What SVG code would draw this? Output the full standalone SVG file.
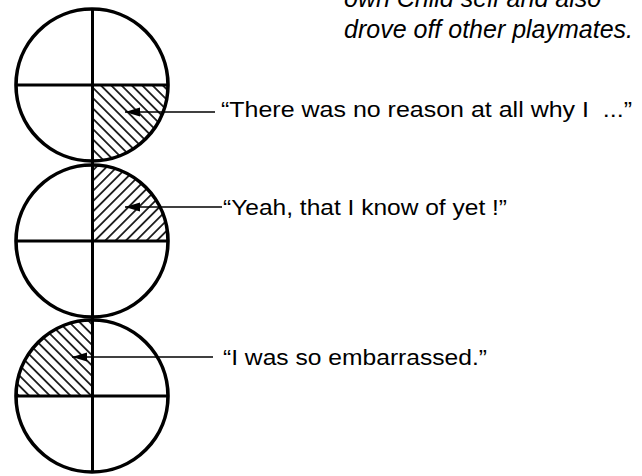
<svg xmlns="http://www.w3.org/2000/svg" width="642" height="476" viewBox="0 0 642 476">
<style>
.ring{fill:none;stroke:#000;stroke-width:3.6}
.ax{stroke:#000;stroke-width:3;fill:none}
.conn{stroke:#000;stroke-width:1.5;fill:none;marker-end:url(#ah)}
.lbl{font-family:"Liberation Sans",Arial,sans-serif;font-size:22.5px;fill:#000}
.note{font-family:"Liberation Sans",Arial,sans-serif;font-size:25px;font-style:italic;fill:#000}
</style>
<defs>
<pattern id="hatchB" patternUnits="userSpaceOnUse" width="7.3" height="10" patternTransform="rotate(-45)">
<line x1="3.65" y1="0" x2="3.65" y2="10" stroke="#000" stroke-width="1.6"/>
</pattern>
<pattern id="hatchF" patternUnits="userSpaceOnUse" width="7.3" height="10" patternTransform="rotate(45)">
<line x1="3.65" y1="0" x2="3.65" y2="10" stroke="#000" stroke-width="1.6"/>
</pattern>
<marker id="ah" markerWidth="16" markerHeight="10" refX="15" refY="5" orient="auto" markerUnits="userSpaceOnUse">
<path d="M0,0.5 L15,5 L0,9.5 Z" fill="#000"/>
</marker>
</defs>
<rect width="642" height="476" fill="#fff"/>
<g id="note">
<text class="note" x="344" y="7">own Child self and also</text>
<text class="note" x="344" y="38">drove off other playmates.</text>
</g>
<g id="circle1">
<path d="M92,85 H168 A76,76 0 0 1 92,161 Z" fill="url(#hatchB)"/>
<circle class="ring" cx="92" cy="85" r="76"/>
<line class="ax" x1="16" y1="85" x2="168" y2="85"/>
</g>
<g id="circle2">
<path d="M92,241 V165 A76,76 0 0 1 168,241 Z" fill="url(#hatchF)"/>
<circle class="ring" cx="92" cy="241" r="76"/>
<line class="ax" x1="16" y1="241" x2="168" y2="241"/>
</g>
<g id="circle3">
<path d="M92,396 H16 A76,76 0 0 1 92,320 Z" fill="url(#hatchB)"/>
<circle class="ring" cx="92" cy="396" r="76"/>
<line class="ax" x1="16" y1="396" x2="168" y2="396"/>
</g>
<g id="axis">
<line class="ax" x1="92.5" y1="9" x2="92.5" y2="472"/>
</g>
<g id="connectors">
<line class="conn" x1="215" y1="112" x2="125" y2="112"/>
<line class="conn" x1="222" y1="207" x2="125" y2="207"/>
<line class="conn" x1="213" y1="357" x2="72" y2="357"/>
</g>
<g id="label1"><text class="lbl" x="221" y="117" textLength="411" lengthAdjust="spacingAndGlyphs">“There was no reason at all why I&#160; ...”</text></g>
<g id="label2"><text class="lbl" x="223" y="215" textLength="284" lengthAdjust="spacingAndGlyphs">“Yeah, that I know of yet !”</text></g>
<g id="label3"><text class="lbl" x="223" y="365" textLength="264" lengthAdjust="spacingAndGlyphs">“I was so embarrassed.”</text></g>
</svg>
